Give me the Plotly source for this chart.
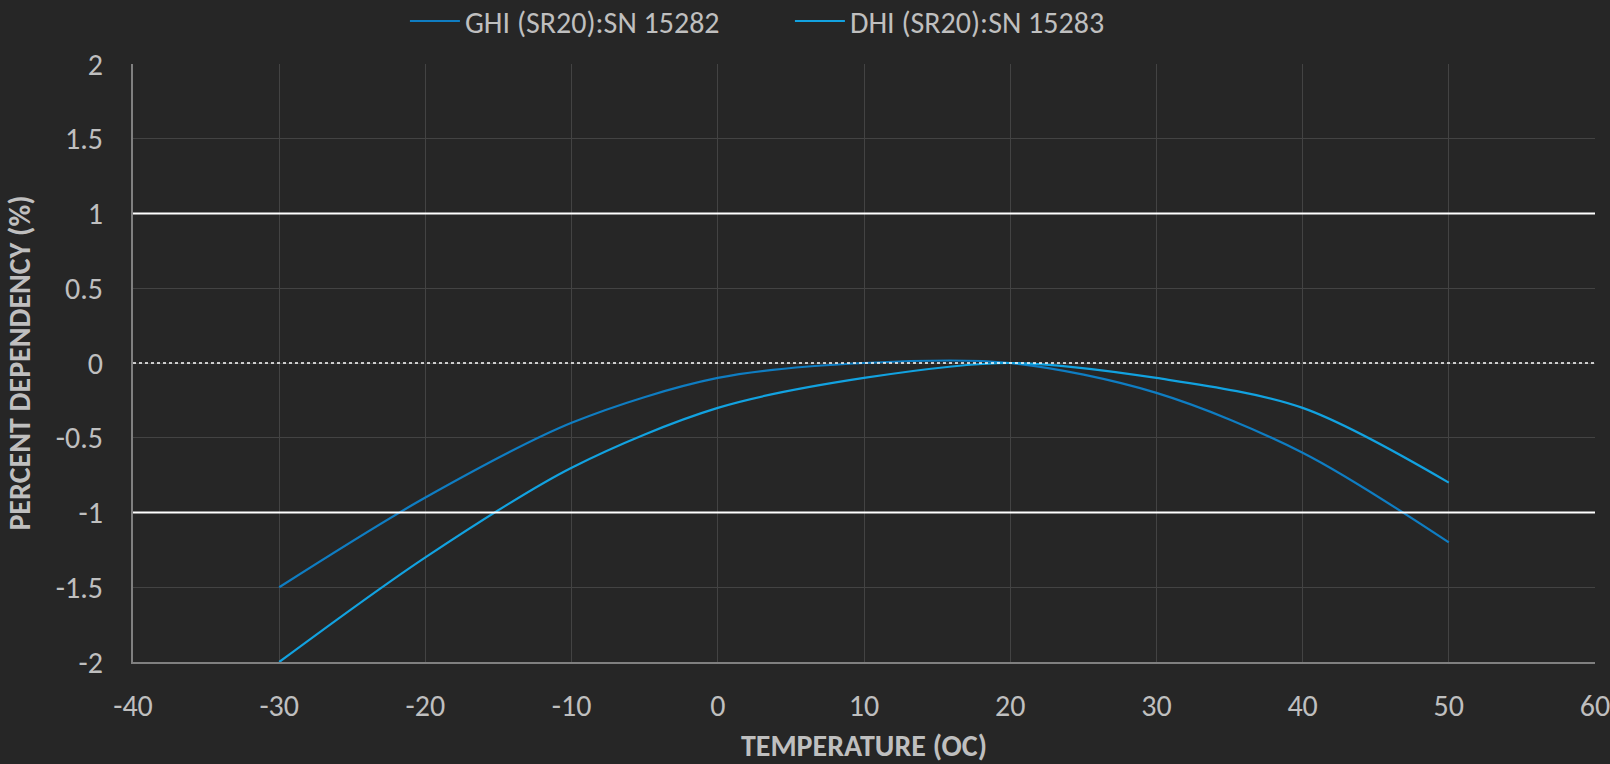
import plotly.graph_objects as go

temps = [-30, -20, -10, 0, 10, 20, 30, 40, 50]
ghi = [-1.5, -0.9, -0.4, -0.1, 0.0, 0.0, -0.2, -0.6, -1.2]
dhi = [-2.0, -1.3, -0.7, -0.3, -0.1, 0.0, -0.1, -0.3, -0.8]
names = ["GHI (SR20):SN 15282", "DHI (SR20):SN 15283"]
colors = ["#0F7DC2", "#12A2E0"]

x_ticks = [-40, -30, -20, -10, 0, 10, 20, 30, 40, 50, 60]
x_labels = ["-40", "-30", "-20", "-10", "0", "10", "20", "30", "40", "50", "60"]
y_ticks = [-2, -1.5, -1, -0.5, 0, 0.5, 1, 1.5, 2]
y_labels = ["-2", "-1.5", "-1", "-0.5", "0", "0.5", "1", "1.5", "2"]

BG = "#262626"
TXT = "#BFBFBF"
FONT = "Carlito, Lato, 'Open Sans', sans-serif"

fig = go.Figure()
for ys, nm, c in zip([ghi, dhi], names, colors):
    fig.add_trace(go.Scatter(x=temps, y=ys, name=nm, mode="lines",
                             line=dict(color=c, width=2.2, shape="spline", smoothing=0.9)))

fig.add_hline(y=1, line=dict(color="white", width=2))
fig.add_hline(y=-1, line=dict(color="white", width=2))
fig.add_hline(y=0, line=dict(color="white", width=1.5, dash="dot"))

fig.update_layout(
    width=1610, height=764,
    paper_bgcolor=BG, plot_bgcolor=BG,
    margin=dict(l=133, r=15, t=64, b=102, autoexpand=False),
    font=dict(family=FONT, color=TXT, size=30),
    showlegend=True,
    legend=dict(orientation="h", x=0.186, xanchor="left",
                y=1 - 21 / 764, yref="container", yanchor="middle",
                font=dict(size=30, color=TXT), bgcolor="rgba(0,0,0,0)",
                entrywidth=320, entrywidthmode="pixels", itemwidth=50),
    xaxis=dict(range=[-40, 60], tickvals=x_ticks, ticktext=x_labels,
               showgrid=True, gridcolor="#434343", gridwidth=1.2,
               zeroline=False, showline=True, linecolor="#808080", linewidth=2,
               ticks="", ticklabelstandoff=16, automargin=False,
               ticklabeloverflow="allow",
               tickfont=dict(size=30),
               title=dict(text="<b>TEMPERATURE (OC)</b>", standoff=22, font=dict(size=30, color=TXT))),
    yaxis=dict(range=[-2, 2], tickvals=y_ticks, ticktext=y_labels,
               showgrid=True, gridcolor="#434343", gridwidth=1.2,
               zeroline=False, showline=True, linecolor="#808080", linewidth=2,
               ticks="", ticklabelstandoff=22, automargin=False,
               ticklabeloverflow="allow",
               tickfont=dict(size=30),
               title=dict(text="<b>PERCENT DEPENDENCY (%)</b>", standoff=16, font=dict(size=30, color=TXT))),
)

fig.write_html("out.html")
